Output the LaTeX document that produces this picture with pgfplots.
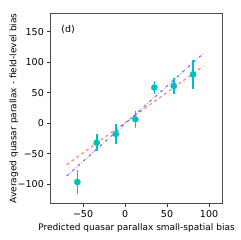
\documentclass[border=0pt]{standalone}
\usepackage{pgfplots}
\pgfplotsset{compat=1.18}
\usepackage{fontspec}
\setmainfont{DejaVu Sans}
\definecolor{mplc}{rgb}{0,0.75,0.75}
\begin{document}
\fontsize{9.5}{11}\selectfont
\begin{tikzpicture}
\begin{axis}[
  scale only axis, width=171.6pt, height=190pt,
  xmin=-88.5, xmax=115.8, ymin=-131, ymax=180,
  xtick={-50,0,50,100}, xticklabels={−50,0,50,100},
  ytick={-100,-50,0,50,100,150}, yticklabels={−100,−50,0,50,100,150},
  tick align=outside, tick pos=left, major tick length=3.5pt,
  tick style={black!80, line width=0.7pt},
  axis line style={black!70, line width=0.9pt},
  /pgf/number format/assume math mode=true,
  tick label style={font=\fontsize{9.5}{11}\selectfont},
  label style={font=\fontsize{9}{11}\selectfont},
  xlabel={Predicted quasar parallax small-spatial bias},
  ylabel={Averaged quasar parallax - field-level bias},
  xlabel style={yshift=0pt},
  ylabel style={yshift=-7pt},
  clip=false,
]
\addplot[red, opacity=0.5, dashed, line width=1.1pt] coordinates {(-69.5,-67.8) (93.3,93.4)};
\addplot[blue, opacity=0.55, dash dot, line width=1.1pt] coordinates {(-69.5,-86.4) (93.3,114.3)};
\addplot[mplc, only marks, mark=*, mark size=3.1pt, mark options={draw=mplc, fill=mplc},
  error bars/.cd, y dir=both, y explicit, error bar style={mplc, line width=1.6pt}, error mark=none]
  coordinates {
  (-56.8,-96.2) +- (0,19)
  (-33.7,-31.7) +- (0,14)
  (-11,-17.5) +- (0,16)
  (12.3,6.6) +- (0,14)
  (34.9,58.5) +- (0,10.5)
  (58,61.2) +- (0,12.5)
  (81,79.8) +- (0,23)
  };
\node[anchor=west, inner sep=0pt] at (axis cs:-76,153.6) {(d)};
\end{axis}
\path (current axis.south west) ++(-50.7pt,-36.7pt) rectangle ([shift={(17.7pt,13.3pt)}]current axis.north east);
\end{tikzpicture}
\end{document}
